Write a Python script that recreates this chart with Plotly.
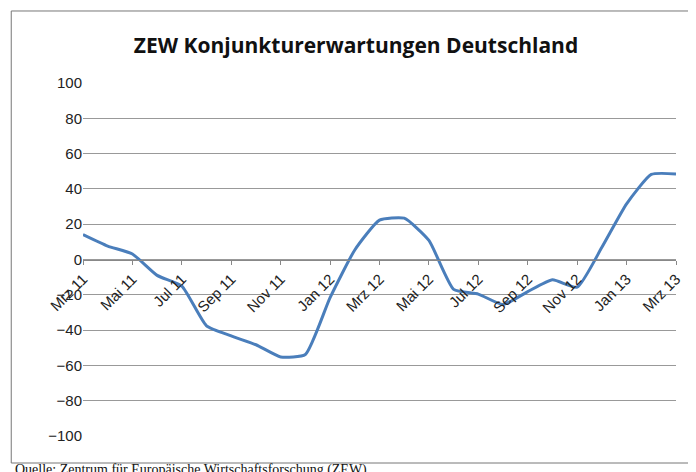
import plotly.graph_objects as go

months = ["Mrz 11", "Apr 11", "Mai 11", "Jun 11", "Jul 11", "Aug 11", "Sep 11", "Okt 11", "Nov 11",
          "Dez 11", "Jan 12", "Feb 12", "Mrz 12", "Apr 12", "Mai 12", "Jun 12", "Jul 12", "Aug 12",
          "Sep 12", "Okt 12", "Nov 12", "Dez 12", "Jan 13", "Feb 13", "Mrz 13"]
values = [14.1, 7.6, 3.1, -9.0, -15.1, -37.6, -43.3, -48.3, -55.2, -53.8, -21.6, 5.4, 22.3,
          23.4, 10.8, -16.9, -19.6, -25.5, -18.2, -11.5, -15.7, 6.9, 31.5, 48.2, 48.5]
shown_ticks = months[::2]

fig = go.Figure(go.Scatter(x=months, y=values, mode="lines",
                           line=dict(color="#4a7ebb", width=3, shape="spline", smoothing=0.5)))

fig.update_layout(
    width=696, height=472, showlegend=False,
    paper_bgcolor="white", plot_bgcolor="white",
    margin=dict(l=75, r=28, t=75, b=44, autoexpand=False),
    font=dict(family="Liberation Sans, Arial", size=15, color="#222"),
    title=dict(text="<b>ZEW Konjunkturerwartungen Deutschland</b>", x=0.5, xanchor="center",
               y=1 - 38 / 472, yanchor="middle",
               font=dict(family="Open Sans", size=21, color="#111")),
    xaxis=dict(type="category", tickvals=shown_ticks, tickangle=-45, anchor="free", position=0.5,
               showgrid=False, showline=True, linecolor="#888", ticks="outside", ticklen=4,
               tickcolor="#888", automargin=False),
    yaxis=dict(range=[-100, 100], dtick=20, showgrid=True, gridcolor="#999", gridwidth=1,
               zeroline=False, showline=False, ticks="", automargin=False),
    shapes=[dict(type="rect", xref="paper", yref="paper", x0=-0.121, x1=1.037, y0=-0.0765, y1=1.204,
                 line=dict(color="#777", width=1))],
    annotations=[dict(text="Quelle: Zentrum für Europäische Wirtschaftsforschung (ZEW).",
                      xref="paper", yref="paper", x=-0.118, y=-0.096, xanchor="left", yanchor="middle",
                      showarrow=False, font=dict(family="Liberation Serif", size=14, color="#111"))],
)

fig.write_html("out.html")
